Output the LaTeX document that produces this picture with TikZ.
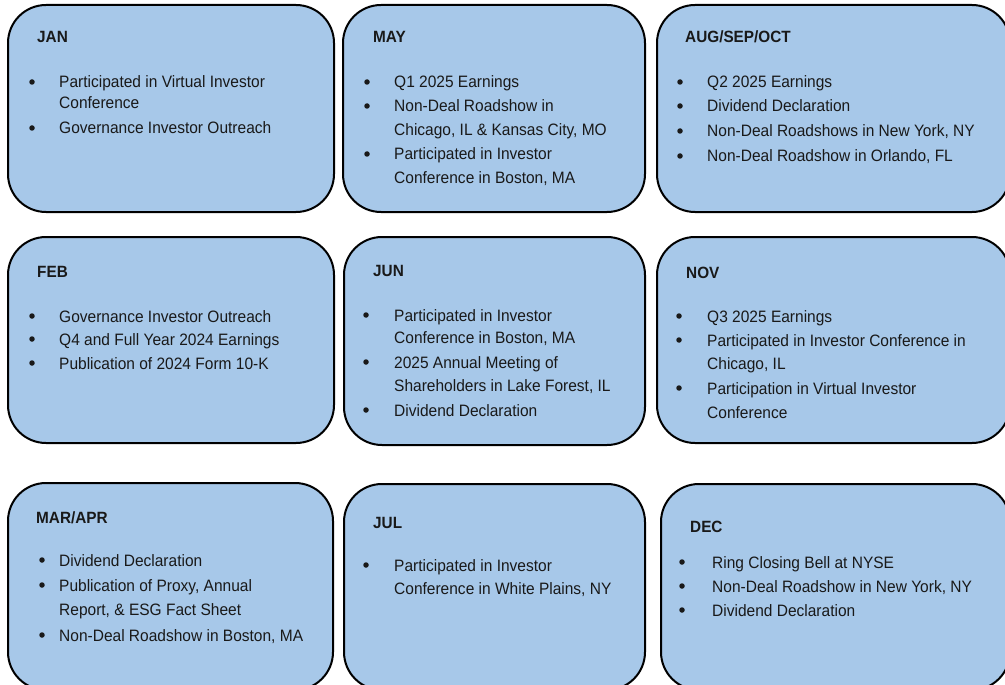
\documentclass[tikz,border=0pt]{standalone}
\usepackage{fontspec}
\setmainfont{Liberation Sans}[FakeStretch=0.94]
\definecolor{cardfill}{RGB}{167,200,233}
\definecolor{ink}{RGB}{25,25,25}
\begin{document}
\begin{tikzpicture}[x=1bp,y=-1bp,
  card/.style={draw=black,line width=2bp,fill=cardfill,rounded corners=38bp},
  ttl/.style={anchor=base west,inner sep=0pt,text=ink,font=\fontsize{16.3bp}{18bp}\selectfont\bfseries},
  itm/.style={anchor=base west,inner sep=0pt,text=ink,font=\fontsize{16.5bp}{18bp}\selectfont},
  dot/.style={circle,fill=ink,inner sep=0pt,minimum size=5.5bp}]
\useasboundingbox (0,0) rectangle (1005,685);
\fill[white] (0,0) rectangle (1005,685);
\clip (0,0) rectangle (1005,685);
% cards
\draw[card] (8,5) rectangle (334,212) node[coordinate] (jan) {};
\draw[card] (343,5) rectangle (645,212) node[coordinate] (may) {};
\draw[card] (657,5) rectangle (1010,212) node[coordinate] (aug) {};
\draw[card] (8,237) rectangle (334,443) node[coordinate] (feb) {};
\draw[card] (344,237) rectangle (645,445) node[coordinate] (jun) {};
\draw[card] (657,237) rectangle (1010,443) node[coordinate] (nov) {};
\draw[card] (8,483) rectangle (333,690) node[coordinate] (mar) {};
\draw[card] (344,484) rectangle (645,690) node[coordinate] (jul) {};
\draw[card] (661,484) rectangle (1010,690) node[coordinate] (dec) {};
% JAN
\node[ttl] (jan-t) at (37,43) {JAN};
\node[dot] (jan-d1) at (32,82) {};
\node[itm] (jan-1) at (59,88) {Participated in Virtual Investor};
\node[itm] (jan-1b) at (59,109) {Conference};
\node[dot] (jan-d2) at (32,128) {};
\node[itm] (jan-2) at (59,134) {Governance Investor Outreach};
% MAY
\node[ttl] (may-t) at (373,43) {MAY};
\node[dot] (may-d1) at (367,82) {};
\node[itm] (may-1) at (394,88) {Q1 2025 Earnings};
\node[dot] (may-d2) at (367,106) {};
\node[itm] (may-2) at (394,112) {Non-Deal Roadshow in};
\node[itm] (may-2b) at (394,136) {Chicago, IL \& Kansas City, MO};
\node[dot] (may-d3) at (367,154) {};
\node[itm] (may-3) at (394,160) {Participated in Investor};
\node[itm] (may-3b) at (394,184) {Conference in Boston, MA};
% AUG
\node[ttl] (aug-t) at (685,43) {AUG/SEP/OCT};
\node[dot] (aug-d1) at (680,82) {};
\node[itm] (aug-1) at (707,88) {Q2 2025 Earnings};
\node[dot] (aug-d2) at (680,106) {};
\node[itm] (aug-2) at (707,112) {Dividend Declaration};
\node[dot] (aug-d3) at (680,131) {};
\node[itm] (aug-3) at (707,137) {Non-Deal Roadshows in New York, NY};
\node[dot] (aug-d4) at (680,156) {};
\node[itm] (aug-4) at (707,162) {Non-Deal Roadshow in Orlando, FL};
% FEB
\node[ttl] (feb-t) at (37,277) {FEB};
\node[dot] (feb-d1) at (32,316) {};
\node[itm] (feb-1) at (59,322) {Governance Investor Outreach};
\node[dot] (feb-d2) at (32,339) {};
\node[itm] (feb-2) at (59,345) {Q4 and Full Year 2024 Earnings};
\node[dot] (feb-d3) at (32,363) {};
\node[itm] (feb-3) at (59,369) {Publication of 2024 Form 10-K};
% JUN
\node[ttl] (jun-t) at (373,276) {JUN};
\node[dot] (jun-d1) at (366,315) {};
\node[itm] (jun-1) at (394,321) {Participated in Investor};
\node[itm] (jun-1b) at (394,343) {Conference in Boston, MA};
\node[dot] (jun-d2) at (366,362) {};
\node[itm] (jun-2) at (394,368) {2025 Annual Meeting of};
\node[itm] (jun-2b) at (394,391) {Shareholders in Lake Forest, IL};
\node[dot] (jun-d3) at (366,410) {};
\node[itm] (jun-3) at (394,416) {Dividend Declaration};
% NOV
\node[ttl] (nov-t) at (686,278) {NOV};
\node[dot] (nov-d1) at (679,316) {};
\node[itm] (nov-1) at (707,322) {Q3 2025 Earnings};
\node[dot] (nov-d2) at (679,340) {};
\node[itm] (nov-2) at (707,346) {Participated in Investor Conference in};
\node[itm] (nov-2b) at (707,369) {Chicago, IL};
\node[dot] (nov-d3) at (679,388) {};
\node[itm] (nov-3) at (707,394) {Participation in Virtual Investor};
\node[itm] (nov-3b) at (707,418) {Conference};
% MAR/APR
\node[ttl] (mar-t) at (36,523) {MAR/APR};
\node[dot] (mar-d1) at (42,560) {};
\node[itm] (mar-1) at (59,566) {Dividend Declaration};
\node[dot] (mar-d2) at (42,585) {};
\node[itm] (mar-2) at (59,591) {Publication of Proxy, Annual};
\node[itm] (mar-2b) at (59,615) {Report, \& ESG Fact Sheet};
\node[dot] (mar-d3) at (42,635) {};
\node[itm] (mar-3) at (59,641) {Non-Deal Roadshow in Boston, MA};
% JUL
\node[ttl] (jul-t) at (373,528) {JUL};
\node[dot] (jul-d1) at (366,565) {};
\node[itm] (jul-1) at (394,571) {Participated in Investor};
\node[itm] (jul-1b) at (394,594) {Conference in White Plains, NY};
% DEC
\node[ttl] (dec-t) at (690,532) {DEC};
\node[dot] (dec-d1) at (682,562) {};
\node[itm] (dec-1) at (712,568) {Ring Closing Bell at NYSE};
\node[dot] (dec-d2) at (682,586) {};
\node[itm] (dec-2) at (712,592) {Non-Deal Roadshow in New York, NY};
\node[dot] (dec-d3) at (682,610) {};
\node[itm] (dec-3) at (712,616) {Dividend Declaration};
\end{tikzpicture}
\end{document}
